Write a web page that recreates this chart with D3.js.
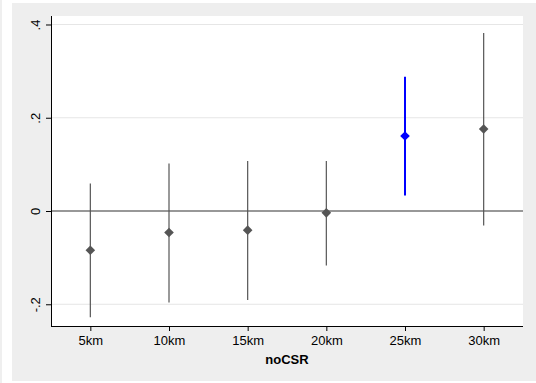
<!DOCTYPE html>
<html>
<head>
<meta charset="utf-8">
<script src="https://cdn.jsdelivr.net/npm/d3@7"></script>
<style>
  body { margin: 0; background: #fff; }
  svg { display: block; }
  text { font-family: "Liberation Sans", Arial, Helvetica, sans-serif; }
</style>
</head>
<body>
<svg id="chart" width="536" height="383"></svg>
<script>
// distance bands and point estimates with confidence intervals
var categories = ["5km", "10km", "15km", "20km", "25km", "30km"];
var estimates = [-0.084, -0.046, -0.041, -0.004, 0.161, 0.176];
var ciLow = [-0.228, -0.196, -0.191, -0.117, 0.033, -0.031];
var ciHigh = [0.059, 0.102, 0.107, 0.107, 0.288, 0.382];
var highlighted = "25km";
var yTicks = [-0.2, 0, 0.2, 0.4];
var yTickLabels = ["-.2", "0", ".2", ".4"];
var xTitle = "noCSR";

var svg = d3.select("#chart");

// outer gray panel
svg.append("rect").attr("x", 0).attr("y", 0).attr("width", 2).attr("height", 383).attr("fill", "#efefef");
svg.append("rect")
    .attr("x", 12).attr("y", 3)
    .attr("width", 524).attr("height", 378)
    .attr("fill", "#eeeeee");

var pLeft = 51, pRight = 523, pTop = 16, pBottom = 326;

// plot region
svg.append("rect")
    .attr("x", pLeft).attr("y", pTop)
    .attr("width", pRight - pLeft).attr("height", pBottom - pTop)
    .attr("fill", "#fff");

var x = d3.scaleLinear().domain([0.5, categories.length + 0.5]).range([pLeft, pRight]);
var y = d3.scaleLinear().domain([-0.2466, 0.4182]).range([pBottom, pTop]);

// grid lines
svg.append("g")
    .selectAll("line")
    .data(yTicks.filter(function (d) { return d !== 0; }))
    .enter()
    .append("line")
    .attr("x1", pLeft).attr("x2", pRight)
    .attr("y1", function (d) { return y(d); })
    .attr("y2", function (d) { return y(d); })
    .attr("stroke", "#e6e6e6")
    .attr("stroke-width", 1);

// zero reference line
svg.append("line")
    .attr("x1", pLeft).attr("x2", pRight)
    .attr("y1", y(0)).attr("y2", y(0))
    .attr("stroke", "#333")
    .attr("stroke-width", 1.2);

var data = categories.map(function (c, i) {
    return { cat: c, pos: i + 1, est: estimates[i], lo: ciLow[i], hi: ciHigh[i] };
});

function colorOf(d) {
    return d.cat === highlighted ? "#0000ff" : "#555555";
}

// confidence intervals
svg.append("g")
    .selectAll("line")
    .data(data)
    .enter()
    .append("line")
    .attr("x1", function (d) { return x(d.pos); })
    .attr("x2", function (d) { return x(d.pos); })
    .attr("y1", function (d) { return y(d.lo); })
    .attr("y2", function (d) { return y(d.hi); })
    .attr("stroke", colorOf)
    .attr("stroke-width", function (d) { return d.cat === highlighted ? 2 : 1.2; });

// diamond markers
svg.append("g")
    .selectAll("path")
    .data(data)
    .enter()
    .append("path")
    .attr("transform", function (d) { return "translate(" + x(d.pos) + "," + y(d.est) + ")"; })
    .attr("d", "M0,-4.8L4.8,0L0,4.8L-4.8,0Z")
    .attr("fill", colorOf);

// y axis
var yAxis = svg.append("g")
    .attr("transform", "translate(" + pLeft + ",0)")
    .call(d3.axisLeft(y).tickValues(yTicks).tickSize(5).tickFormat(function (d, i) { return yTickLabels[i]; }));
yAxis.select(".domain").attr("d", "M0.5," + pTop + "V" + pBottom).attr("stroke", "#000");
yAxis.selectAll(".tick line").attr("stroke", "#000");
yAxis.selectAll(".tick text")
    .attr("x", null).attr("dy", null)
    .attr("transform", "translate(-11,0) rotate(-90)")
    .attr("text-anchor", "middle")
    .attr("font-size", 13)
    .attr("fill", "#000");

// x axis
var xAxis = svg.append("g")
    .attr("transform", "translate(0," + pBottom + ")")
    .call(d3.axisBottom(x).tickValues(d3.range(1, categories.length + 1)).tickSize(5)
        .tickFormat(function (d) { return categories[d - 1]; }));
xAxis.select(".domain").attr("d", "M" + pLeft + ",0.5H" + pRight).attr("stroke", "#000");
xAxis.selectAll(".tick line").attr("stroke", "#000");
xAxis.selectAll(".tick text")
    .attr("y", 19).attr("dy", null)
    .attr("font-size", 13)
    .attr("fill", "#000");

svg.append("text")
    .attr("x", (pLeft + pRight) / 2)
    .attr("y", 364)
    .attr("text-anchor", "middle")
    .attr("font-size", 13)
    .attr("font-weight", "bold")
    .text(xTitle);
</script>
</body>
</html>
